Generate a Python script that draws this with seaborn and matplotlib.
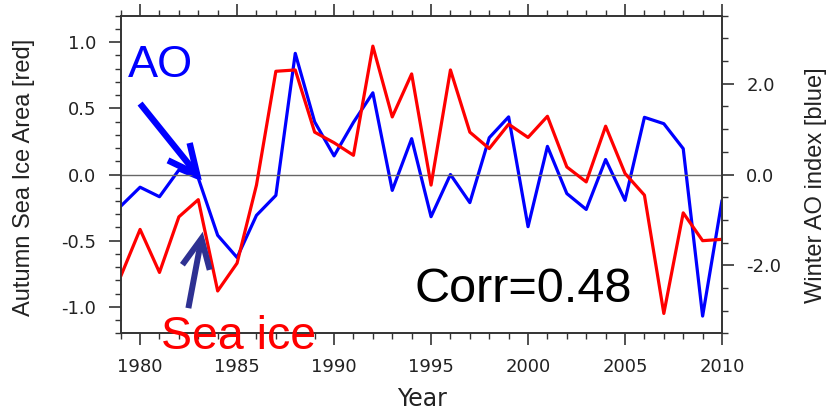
import pandas as pd
import matplotlib
matplotlib.use("Agg")
import matplotlib.pyplot as plt
from matplotlib.ticker import MultipleLocator
import seaborn as sns

# values
years = list(range(1979, 2011))
sea_ice = [-0.77, -0.415, -0.74, -0.32, -0.19, -0.88, -0.67, -0.08, 0.78, 0.79,
           0.32, 0.24, 0.145, 0.97, 0.435, 0.76, -0.08, 0.79, 0.32, 0.196,
           0.38, 0.28, 0.44, 0.057, -0.056, 0.365, 0.008, -0.156, -1.05, -0.29,
           -0.50, -0.49]
ao_index = [-0.70, -0.28, -0.49, 0.10, -0.08, -1.34, -1.83, -0.90, -0.46, 2.67,
            1.16, 0.41, 1.15, 1.80, -0.35, 0.79, -0.93, 0.0, -0.62, 0.81,
            1.27, -1.15, 0.62, -0.42, -0.77, 0.33, -0.57, 1.26, 1.12, 0.57,
            -3.12, -0.57]

year_ticks = [1980, 1985, 1990, 1995, 2000, 2005, 2010]
ice_ticks = [-1.0, -0.5, 0.0, 0.5, 1.0]
ice_labels = ["-1.0", "-0.5", "0.0", "0.5", "1.0"]
ao_ticks = [-2.0, 0.0, 2.0]
ao_labels = ["-2.0", "0.0", "2.0"]

df = pd.DataFrame({"Year": years, "SeaIce": sea_ice, "AO": ao_index})

sns.set_style("ticks")
plt.rcParams["font.family"] = ["DejaVu Sans"]
plt.rcParams["axes.unicode_minus"] = False

fig = plt.figure(figsize=(8.3, 4.12), dpi=100)
ax = fig.add_axes([0.1454, 0.191, 0.7245, 0.7709])
ax2 = ax.twinx()

sns.lineplot(data=df, x="Year", y="AO", ax=ax2, color="#0000FF", linewidth=2.3)
sns.lineplot(data=df, x="Year", y="SeaIce", ax=ax, color="#FF0000", linewidth=2.3)
ax.axhline(0, color="#666666", linewidth=1.0, zorder=1)

# red axis on top so the annotations sit above everything
ax.set_zorder(ax2.get_zorder() + 1)
ax.patch.set_visible(False)

ax.set_xlim(1979, 2010)
ax.set_ylim(-1.2, 1.2)
ax2.set_ylim(-3.5, 3.5)

ax.set_xticks(year_ticks)
ax.set_xticklabels([str(y) for y in year_ticks])
ax.xaxis.set_minor_locator(MultipleLocator(1))
ax.set_yticks(ice_ticks)
ax.set_yticklabels(ice_labels)
ax.yaxis.set_minor_locator(MultipleLocator(0.1))
ax2.set_yticks(ao_ticks)
ax2.set_yticklabels(ao_labels)
ax2.yaxis.set_minor_locator(MultipleLocator(0.5))

for a in (ax, ax2):
    a.set_xlabel("")
    a.set_ylabel("")
    for s in a.spines.values():
        s.set_visible(True)
        s.set_linewidth(1.2)
        s.set_color("#333333")
    a.tick_params(which="major", direction="out", length=8.5, width=1.2,
                  color="#333333", labelsize=13, labelcolor="#222222", pad=9)
    a.tick_params(which="minor", direction="out", length=4.3, width=1.0,
                  color="#333333")
ax.tick_params(which="both", top=True, right=False)

fig.text(0.029, 0.569, "Autumn Sea Ice Area [red]", rotation=90, ha="center",
         va="center", fontsize=17, family="Liberation Sans", color="#222222")
fig.text(0.983, 0.551, "Winter AO index [blue]", rotation=90, ha="center",
         va="center", fontsize=17, family="Liberation Sans", color="#222222")
fig.text(0.5084, 0.0146, "Year", ha="center", va="baseline", fontsize=17,
         color="#222222")

ax.text(1979.38, 0.734, "AO", color="#0000FF", fontsize=32.5,
        family="Liberation Sans", ha="left", va="baseline")
ax.text(1981.08, -1.32, "Sea ice", color="#FF0000", fontsize=33.5,
        family="Liberation Sans", ha="left", va="baseline", clip_on=False,
        zorder=10)
ax.text(1994.17, -0.963, "Corr=0.48", color="black", fontsize=35,
        family="Liberation Sans", ha="left", va="baseline")

ax.annotate("", xy=(1983.18, -0.043), xytext=(1980.0, 0.536),
            arrowprops=dict(arrowstyle="->,head_length=2.1,head_width=1.0",
                            color="#0000FF", lw=4.6, mutation_scale=10,
                            shrinkA=0, shrinkB=0, joinstyle="miter",
                            capstyle="butt"))
ax.annotate("", xy=(1983.23, -0.433), xytext=(1982.49, -1.01),
            arrowprops=dict(arrowstyle="->,head_length=2.1,head_width=1.0",
                            color="#2E3192", lw=4.3, mutation_scale=10,
                            shrinkA=0, shrinkB=0, joinstyle="miter",
                            capstyle="butt"), annotation_clip=False)

fig.savefig("out.png", dpi=100)
